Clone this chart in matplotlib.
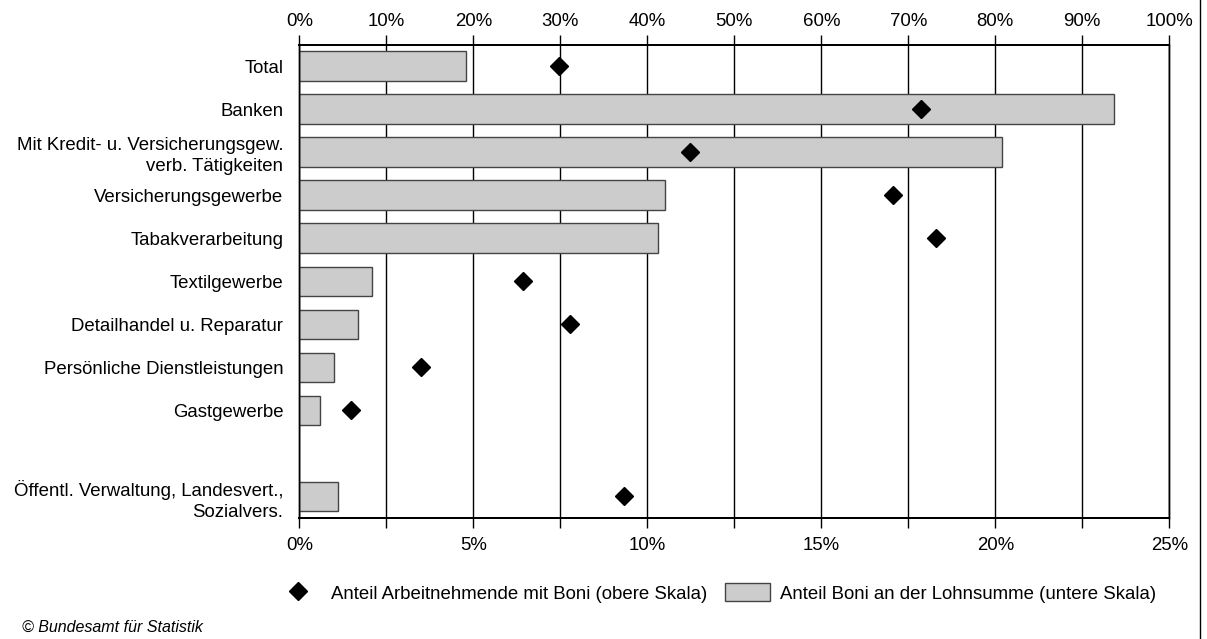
import numpy as np
import matplotlib.pyplot as plt
from matplotlib.lines import Line2D
from matplotlib.patches import Patch
from matplotlib.ticker import MultipleLocator, FuncFormatter

plt.rcParams['font.family'] = ['Liberation Sans', 'DejaVu Sans']

# Daten (in Prozent)
kategorien = [
    "Total",
    "Banken",
    "Mit Kredit- u. Versicherungsgew.\nverb. Tätigkeiten",
    "Versicherungsgewerbe",
    "Tabakverarbeitung",
    "Textilgewerbe",
    "Detailhandel u. Reparatur",
    "Persönliche Dienstleistungen",
    "Gastgewerbe",
    "Öffentl. Verwaltung, Landesvert.,\nSozialvers.",
]
anteil_lohnsumme = [4.8, 23.4, 20.2, 10.5, 10.3, 2.1, 1.7, 1.0, 0.6, 1.1]      # untere Skala
anteil_arbeitnehmende = [29.8, 71.5, 44.9, 68.2, 73.2, 25.7, 31.1, 14.0, 5.9, 37.3]  # obere Skala

FS = 13.4

# Positionen: Lücke vor der letzten Kategorie
y_pos = np.arange(len(kategorien), dtype=float)
y_pos[-1] += 1

fig = plt.figure(figsize=(12.07, 6.39), dpi=100)
ax = fig.add_axes([299.3 / 1207, 1 - 518 / 639, 870 / 1207, (518 - 44.7) / 639])

ax.barh(y_pos, anteil_lohnsumme, height=0.69, color='#cccccc',
        edgecolor='#444444', linewidth=1.0, zorder=2)
ax.set_xlim(0, 25)
ax.set_ylim(10.5, -0.5)
ax.set_yticks(y_pos)
ax.set_yticklabels(kategorien, fontsize=FS, linespacing=1.3)
ax.tick_params(axis='y', length=0, pad=11.5)

ax.xaxis.set_major_locator(MultipleLocator(5))
ax.xaxis.set_minor_locator(MultipleLocator(2.5))
ax.xaxis.set_major_formatter(FuncFormatter(lambda v, p: f"{v:.0f}%"))
ax.tick_params(axis='x', which='both', direction='out', length=7, width=1,
               color='black', labelsize=FS, pad=7)
ax.set_axisbelow(True)
ax.grid(axis='x', which='both', color='black', linewidth=1.0)

ax2 = ax.twiny()
ax2.plot(anteil_arbeitnehmende, y_pos, linestyle='none', marker='D',
         markersize=9.5, color='black', zorder=3)
ax2.set_xlim(0, 100)
ax2.xaxis.set_major_locator(MultipleLocator(10))
ax2.xaxis.set_major_formatter(FuncFormatter(lambda v, p: f"{v:.0f}%"))
ax2.tick_params(axis='x', direction='out', length=7, width=1,
                color='black', labelsize=FS, pad=3.5)

for a in (ax, ax2):
    a.spines['top'].set_linewidth(1.4)
    a.spines['bottom'].set_linewidth(1.4)
    a.spines['left'].set_linewidth(1.0)
    a.spines['right'].set_linewidth(1.0)

# Legende
handles = [
    Line2D([], [], linestyle='none', marker='D', markersize=9.5, color='black'),
    Patch(facecolor='#cccccc', edgecolor='#444444', linewidth=1.0),
]
labels = ["Anteil Arbeitnehmende mit Boni (obere Skala)",
          "Anteil Boni an der Lohnsumme (untere Skala)"]
fig.legend(handles, labels, loc='center left', bbox_to_anchor=(276 / 1207, 1 - 593 / 639),
           ncol=2, frameon=False, fontsize=FS, handlelength=2.38, handleheight=1.08,
           handletextpad=0.55, columnspacing=1.0, borderpad=0, borderaxespad=0)

fig.text(22 / 1207, 1 - 627 / 639, "© Bundesamt für Statistik", fontsize=11.5,
         style='italic', ha='left', va='center')

# Rahmenlinie rechts
fig.add_artist(Line2D([1200 / 1207, 1200 / 1207], [0, 1], transform=fig.transFigure,
                      color='black', linewidth=1.0))

fig.savefig('out.png', dpi=100)
